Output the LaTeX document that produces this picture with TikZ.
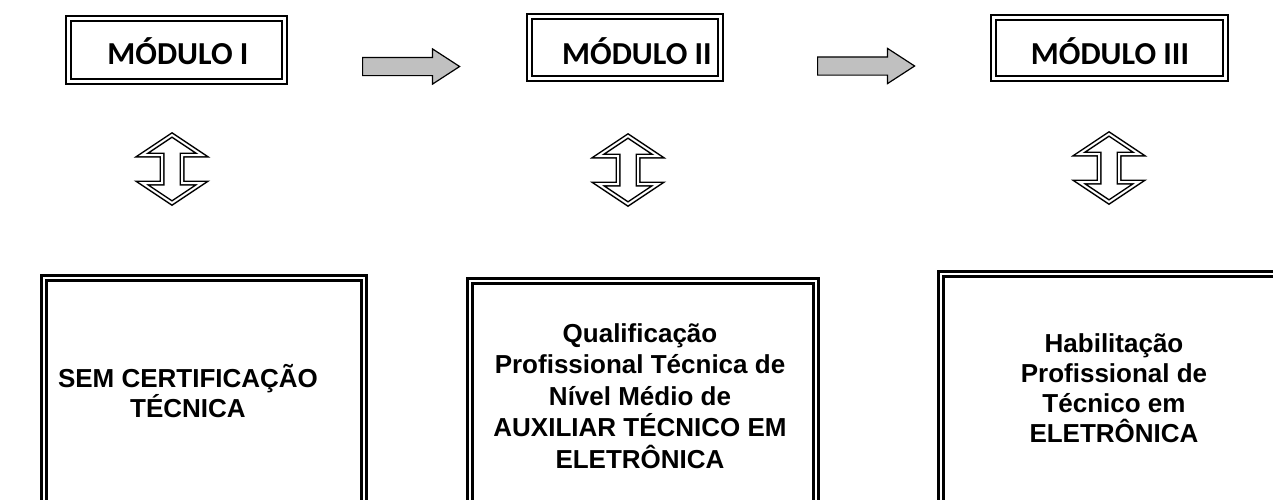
\documentclass[tikz,border=0pt]{standalone}
\usepackage{fontspec}
\setmainfont{Liberation Sans}
\newfontfamily\modfont{Carlito}
\usetikzlibrary{shapes.arrows}

\definecolor{arrowgray}{HTML}{C0C0C0}

\tikzset{
	modbox/.style={draw, double, line width=2.3pt, double distance=2.6pt, inner sep=0pt},
	certbox/.style={draw, double, line width=3pt, double distance=2pt, inner sep=0pt},
	modtext/.style={font=\modfont\bfseries\fontsize{32}{38}\selectfont, anchor=base, inner sep=0pt},
	certtext/.style={font=\bfseries\fontsize{26}{30}\selectfont, align=center, inner sep=0pt},
	grayarrow/.style={single arrow, draw, line width=1.2pt, fill=arrowgray, anchor=west,
		minimum height=97pt, inner xsep=0pt, inner ysep=8.5pt,
		single arrow head extend=8.5pt, single arrow tip angle=66},
	linkarrow/.style={draw, double, line width=1.5pt, double distance=2pt, line join=miter}
}

\begin{document}
\begin{tikzpicture}[x=1pt, y=-1pt]
			\def \headw {30} % half width of the head
			\def \headl {20} % length of the head
			\def \shaft {10} % half width of the shaft
			\def \half {34}  % half length of the arrow
			
			\useasboundingbox (0,0) rectangle (1273,499);
			\clip (0,0) rectangle (1273,499);
			
			% the three modules
			\foreach \name/\x/\y/\w/\h/\tx/\lbl in {
				m1/176.5/50/216/63/178/MÓDULO I,
				m2/625/47.5/191/62/637/MÓDULO II,
				m3/1109.5/48/232/61/1110/MÓDULO III}
			{
				\node[modbox, minimum width=\w, minimum height=\h] (\name) at (\x,\y) {};
				\node[modtext] (\name-text) at (\tx,64.5) {\lbl};
			}
			
			% gray arrows between the modules
			\node[grayarrow] (a12) at (362,66.5) {};
			\node[grayarrow] (a23) at (817,66) {};
			
			% double arrows down to the certificates
			\foreach \x/\y in {172/169, 628/170, 1109/168}
			{
				\draw[linkarrow] (\x,\y-\half) -- ++(\headw,\headl) -- (\x+\shaft,\y-\half+\headl)
				-- (\x+\shaft,\y+\half-\headl) -- (\x+\headw,\y+\half-\headl) -- (\x,\y+\half)
				-- (\x-\headw,\y+\half-\headl) -- (\x-\shaft,\y+\half-\headl)
				-- (\x-\shaft,\y-\half+\headl) -- (\x-\headw,\y-\half+\headl) -- cycle;
			}
			
			% certificates, their lower part runs off the page
			\node[certbox, minimum width=320, minimum height=262] (c1) at (204,409) {};
			\node[certbox, minimum width=346.5, minimum height=259] (c2) at (642.75,410.5) {};
			\node[certbox, minimum width=359.5, minimum height=266.5] (c3) at (1120.25,406.75) {};
			
			\node[certtext, font=\bfseries\fontsize{26}{28}\selectfont] (c1-text) at (188,391)
				{SEM CERTIFICAÇÃO\\TÉCNICA};
			\node[certtext, font=\bfseries\fontsize{26}{31.5}\selectfont] (c2-text) at (640,396)
				{Qualificação\\Profissional Técnica de\\Nível Médio de\\AUXILIAR TÉCNICO EM\\ELETRÔNICA};
			\node[certtext] (c3-text) at (1114,388)
				{Habilitação\\Profissional de\\Técnico em\\ELETRÔNICA};
			\end{tikzpicture}
\end{document}
